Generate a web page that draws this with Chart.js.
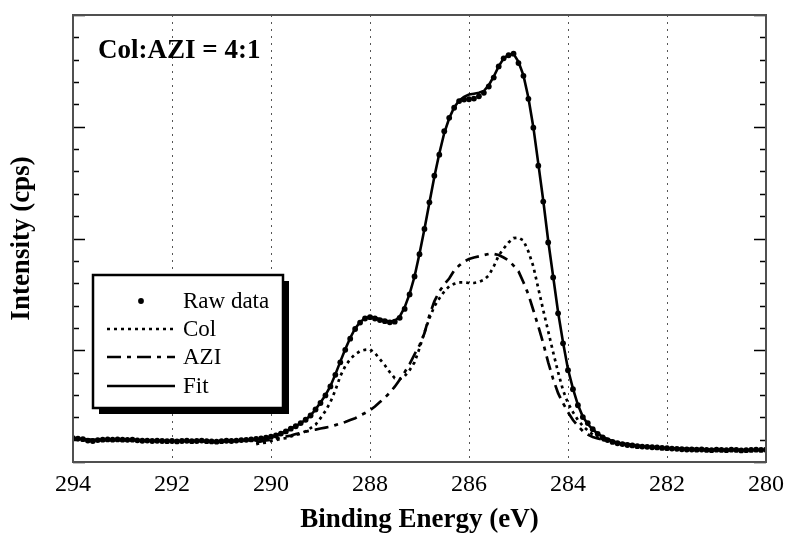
<!DOCTYPE html>
<html>
<head>
<meta charset="utf-8">
<script src="https://cdn.jsdelivr.net/npm/chart.js@4/dist/chart.umd.min.js"></script>
<style>
    html, body { margin: 0; padding: 0; background: #fff; }
    #wrap { width: 792px; height: 536px; }
</style>
</head>
<body>
<div id="wrap"><canvas id="xps" width="792" height="536"></canvas></div>
<script>
const SERIF = "'Liberation Serif', 'Times New Roman', serif";

// raw spectrum, 294.0 -> 280.0 eV, 0.1 eV per point
const rawStart = 294.0;
const rawStep = 0.1;
const rawIntensity = [
    1.07, 1.05, 1.02, 0.96, 0.94, 0.98, 1.00, 1.01, 1.00, 1.01,
    1.00, 0.99, 1.00, 0.97, 0.95, 0.96, 0.94, 0.95, 0.94, 0.93,
    0.94, 0.92, 0.94, 0.95, 0.93, 0.94, 0.96, 0.93, 0.92, 0.91,
    0.93, 0.95, 0.94, 0.96, 0.98, 0.99, 1.01, 1.03, 1.06, 1.09,
    1.13, 1.19, 1.27, 1.37, 1.49, 1.60, 1.74, 1.89, 2.08, 2.35,
    2.64, 2.98, 3.38, 3.90, 4.46, 5.02, 5.52, 5.95, 6.24, 6.42,
    6.48, 6.42, 6.35, 6.30, 6.25, 6.28, 6.45, 6.85, 7.50, 8.30,
    9.30, 10.43, 11.62, 12.81, 13.75, 14.80, 15.40, 15.85, 16.15, 16.22,
    16.23, 16.26, 16.36, 16.52, 16.80, 17.20, 17.70, 18.06, 18.20, 18.27,
    17.85, 17.28, 16.25, 14.96, 13.26, 11.65, 9.82, 8.26, 6.65, 5.31,
    4.11, 3.26, 2.54, 2.01, 1.74, 1.47, 1.26, 1.10, 0.98, 0.90,
    0.84, 0.80, 0.76, 0.74, 0.71, 0.69, 0.68, 0.66, 0.65, 0.63,
    0.62, 0.60, 0.59, 0.57, 0.56, 0.56, 0.55, 0.56, 0.54, 0.53,
    0.55, 0.54, 0.53, 0.55, 0.54, 0.52, 0.53, 0.54, 0.55, 0.54,
    0.55
];

// fit envelope and the two components, 290.3 -> 283.2 eV, 0.1 eV per point
const compStart = 290.3;
const fitIntensity = [
    1.00, 1.03, 1.07, 1.12, 1.20, 1.28, 1.38, 1.49, 1.61, 1.74,
    1.89, 2.09, 2.35, 2.66, 2.99, 3.39, 3.92, 4.49, 5.04, 5.55,
    5.98, 6.26, 6.43, 6.50, 6.46, 6.39, 6.33, 6.29, 6.32, 6.50,
    6.92, 7.52, 8.30, 9.32, 10.43, 11.60, 12.76, 13.80, 14.72, 15.38,
    15.86, 16.17, 16.34, 16.44, 16.48, 16.52, 16.60, 16.86, 17.25, 17.70,
    18.06, 18.22, 18.26, 17.90, 17.30, 16.30, 14.98, 13.35, 11.70, 9.90,
    8.30, 6.70, 5.35, 4.15, 3.28, 2.56, 2.02, 1.70, 1.45, 1.27,
    1.13, 1.02
];
const colIntensity = [
    0.80, 0.85, 0.87, 0.94, 0.98, 1.03, 1.07, 1.14, 1.21, 1.27,
    1.38, 1.52, 1.67, 1.96, 2.28, 2.68, 3.21, 3.84, 4.29, 4.60,
    4.82, 4.96, 5.02, 5.04, 4.87, 4.60, 4.33, 4.02, 3.75, 3.71,
    3.84, 4.11, 4.46, 5.09, 5.80, 6.43, 6.96, 7.32, 7.63, 7.86,
    7.97, 8.04, 8.04, 8.01, 8.01, 8.06, 8.15, 8.35, 8.75, 9.24,
    9.55, 9.82, 10.02, 10.04, 9.91, 9.42, 8.75, 7.77, 6.79, 5.85,
    4.91, 4.02, 3.21, 2.63, 2.23, 1.88, 1.61, 1.41, 1.23, 1.09,
    0.98, 0.92
];
const aziIntensity = [
    0.87, 0.92, 0.96, 1.00, 1.05, 1.09, 1.14, 1.18, 1.25, 1.29,
    1.36, 1.41, 1.45, 1.50, 1.54, 1.58, 1.65, 1.72, 1.79, 1.88,
    1.96, 2.08, 2.19, 2.32, 2.48, 2.68, 2.88, 3.10, 3.37, 3.68,
    4.02, 4.38, 4.82, 5.22, 5.76, 6.56, 7.19, 7.63, 7.95, 8.21,
    8.57, 8.79, 8.97, 9.08, 9.15, 9.20, 9.26, 9.31, 9.31, 9.26,
    9.15, 9.02, 8.79, 8.53, 8.04, 7.50, 6.79, 6.07, 5.31, 4.46,
    3.71, 3.08, 2.63, 2.23, 1.88, 1.61, 1.38, 1.23, 1.12, 1.05,
    1.00, 0.96
];

// flat ends of the fit outside the component window
const fitWingEnergy = [294, 293.5, 293, 292.5, 292, 291.5, 291, 290.5, 283.0, 282.5, 282.0, 281.0, 280.0];
const fitWingIntensity = [1.06, 0.98, 1.00, 0.96, 0.94, 0.94, 0.93, 0.98, 0.86, 0.70, 0.62, 0.55, 0.54];

const xTicks = [294, 292, 290, 288, 286, 284, 282, 280];
const legendLabels = ['Raw data', 'Col', 'AZI', 'Fit'];
const ratioLabel = 'Col:AZI = 4:1';

function toPoints(start, values) {
    return values.map((v, i) => ({ x: +(start - i * rawStep).toFixed(1), y: v }));
}

const rawPoints = toPoints(rawStart, rawIntensity);
const fitPoints = toPoints(compStart, fitIntensity)
    .concat(fitWingEnergy.map((e, i) => ({ x: e, y: fitWingIntensity[i] })))
    .sort((a, b) => b.x - a.x);

// frame, inward ticks, legend box and the ratio note
const decorations = {
    id: 'decorations',
    afterDraw(chart) {
        const { ctx, chartArea: area, scales } = chart;
        const y = scales.y;

        ctx.save();
        ctx.strokeStyle = '#000';
        ctx.lineWidth = 1.5;
        y.ticks.forEach((t) => {
            const py = Math.round(y.getPixelForValue(t.value)) + 0.5;
            const len = t.value % 5 === 0 ? 12 : 6;
            ctx.beginPath();
            ctx.moveTo(area.left, py);
            ctx.lineTo(area.left + len, py);
            ctx.moveTo(area.right, py);
            ctx.lineTo(area.right - len, py);
            ctx.stroke();
        });

        ctx.strokeStyle = '#505050';
        ctx.lineWidth = 2;
        ctx.strokeRect(area.left, area.top, area.right - area.left, area.bottom - area.top);

        // ratio note
        ctx.fillStyle = '#000';
        ctx.font = `bold 27px ${SERIF}`;
        ctx.textAlign = 'left';
        ctx.textBaseline = 'alphabetic';
        ctx.fillText(ratioLabel, 98, 58);

        // legend with drop shadow
        const bx = 93, by = 275, bw = 190, bh = 133;
        ctx.fillStyle = '#000';
        ctx.fillRect(bx + 6, by + 6, bw, bh);
        ctx.fillStyle = '#fff';
        ctx.fillRect(bx, by, bw, bh);
        ctx.strokeStyle = '#000';
        ctx.lineWidth = 2.5;
        ctx.strokeRect(bx, by, bw, bh);

        const rows = [301, 329, 357, 386];
        ctx.font = `23px ${SERIF}`;
        ctx.textBaseline = 'middle';
        chart.data.datasets.forEach((ds, i) => {
            const ry = rows[i];
            if (ds.showLine) {
                ctx.beginPath();
                ctx.setLineDash(ds.borderDash || []);
                ctx.lineWidth = ds.borderWidth;
                ctx.strokeStyle = ds.borderColor;
                ctx.moveTo(107, ry);
                ctx.lineTo(175, ry);
                ctx.stroke();
                ctx.setLineDash([]);
            } else {
                ctx.beginPath();
                ctx.fillStyle = ds.pointBackgroundColor;
                ctx.arc(141, ry, ds.pointRadius, 0, Math.PI * 2);
                ctx.fill();
            }
            ctx.fillStyle = '#000';
            ctx.fillText(legendLabels[i], 183, ry + 1);
        });
        ctx.restore();
    },
};

new Chart(document.getElementById('xps'), {
    type: 'scatter',
    data: {
        datasets: [
            {
                label: legendLabels[0],
                data: rawPoints,
                showLine: false,
                pointRadius: 2.9,
                pointBackgroundColor: '#000',
                pointBorderWidth: 0,
            },
            {
                label: legendLabels[1],
                data: toPoints(compStart, colIntensity),
                showLine: true,
                borderColor: '#000',
                borderWidth: 2.7,
                borderDash: [3, 4],
                pointRadius: 0,
            },
            {
                label: legendLabels[2],
                data: toPoints(compStart, aziIntensity),
                showLine: true,
                borderColor: '#000',
                borderWidth: 2.7,
                borderDash: [14, 6, 4, 6],
                pointRadius: 0,
            },
            {
                label: legendLabels[3],
                data: fitPoints,
                showLine: true,
                borderColor: '#000',
                borderWidth: 2.6,
                pointRadius: 0,
            },
        ],
    },
    options: {
        responsive: false,
        animation: false,
        layout: { padding: { left: 6, right: 24, top: 15, bottom: 0 } },
        plugins: {
            legend: { display: false },
            tooltip: { enabled: false },
        },
        scales: {
            x: {
                type: 'linear',
                reverse: true,
                min: 280,
                max: 294,
                afterBuildTicks: (scale) => {
                    scale.ticks = xTicks.map((v) => ({ value: v }));
                },
                afterFit: (scale) => {
                    scale.height = 74;
                },
                ticks: {
                    color: '#000',
                    padding: 8,
                    maxRotation: 0,
                    font: { family: SERIF, size: 24 },
                    callback: (v) => String(v),
                },
                grid: {
                    color: '#555',
                    lineWidth: 1,
                    drawTicks: false,
                },
                border: { display: false, dash: [2, 5] },
                title: {
                    display: true,
                    text: 'Binding Energy (eV)',
                    color: '#000',
                    padding: { top: 0, bottom: 0 },
                    font: { family: SERIF, size: 27, weight: 'bold' },
                },
            },
            y: {
                min: 0,
                max: 20,
                afterFit: (scale) => {
                    scale.width = 67;
                },
                ticks: { display: false, stepSize: 1 },
                grid: { display: false, drawTicks: false },
                border: { display: false },
                title: {
                    display: true,
                    text: 'Intensity (cps)',
                    color: '#000',
                    padding: { top: 0, bottom: 0 },
                    font: { family: SERIF, size: 27, weight: 'bold' },
                },
            },
        },
    },
    plugins: [decorations],
});
</script>
</body>
</html>
